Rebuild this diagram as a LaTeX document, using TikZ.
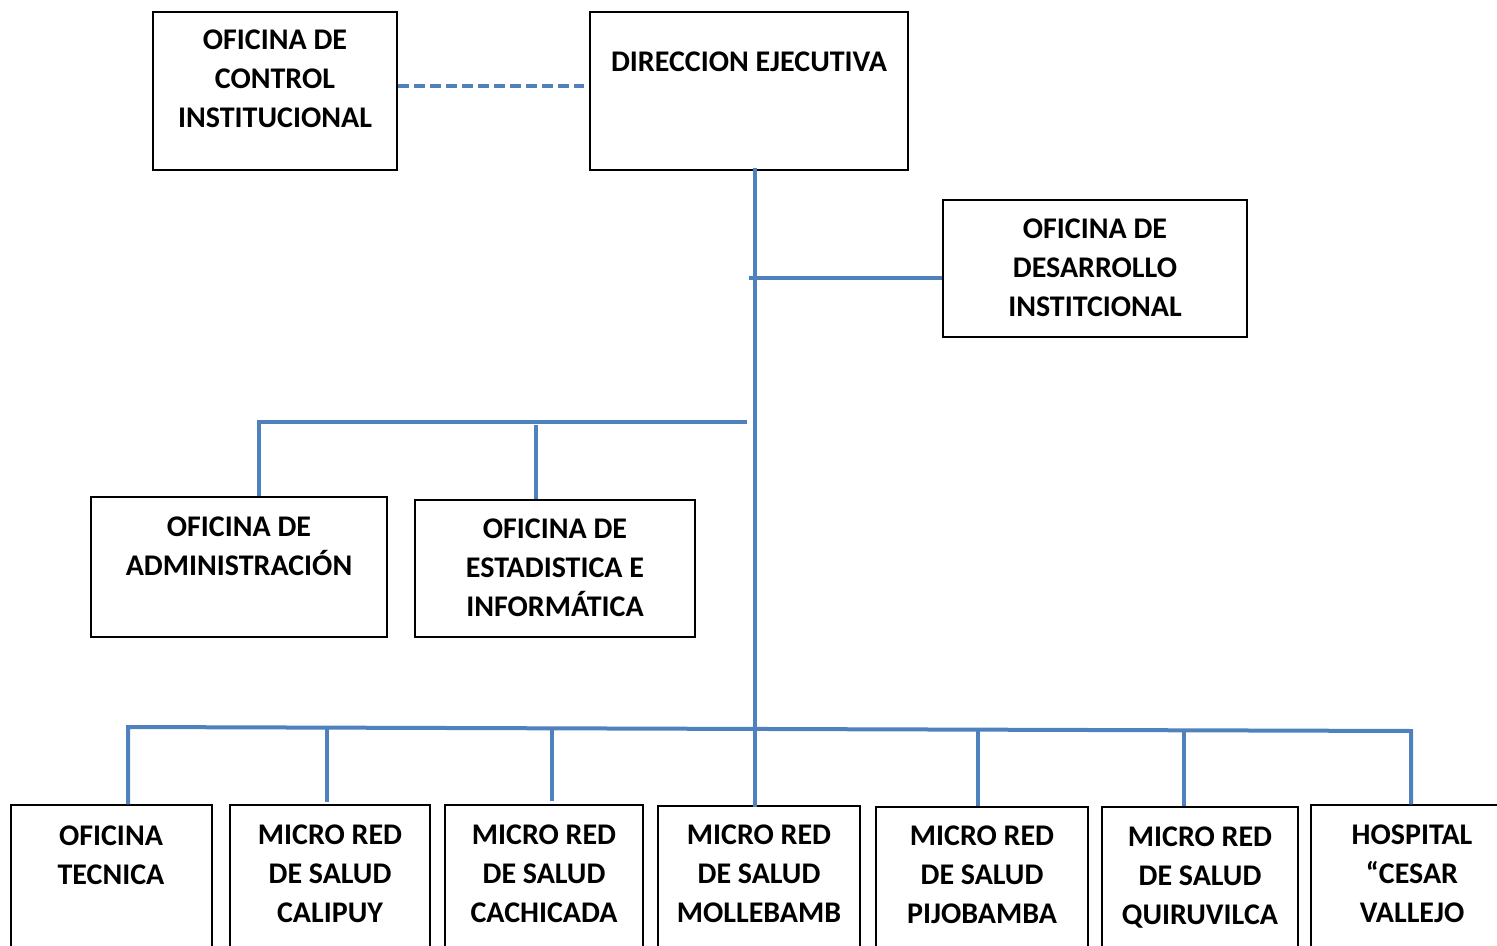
\documentclass[tikz,border=0pt]{standalone}
\usepackage{fontspec}
\setmainfont{Carlito}
\usetikzlibrary{calc}
\definecolor{lineblue}{HTML}{4F81BD}
\tikzset{
  box/.style={draw=black, line width=0.75pt, rectangle, inner sep=0pt},
  lbl/.style={font=\bfseries\fontsize{15}{19.5}\selectfont, align=center, inner sep=0pt, anchor=base},
  conn/.style={draw=lineblue, line width=2pt},
  dashconn/.style={conn, dash pattern=on 5.5pt off 2.5pt}
}
\newcommand\mybox[5]{\node[box, minimum width={(#4-#2)*0.5pt}, minimum height={(#5-#3)*0.5pt}] (#1) at ({(#2+#4)/2},{(#3+#5)/2}) {};}
\begin{document}
\begin{tikzpicture}[x=0.5pt,y=-0.5pt]
\useasboundingbox (0,0) rectangle (1497,946);
\clip (0,0) rectangle (1497,946);
% boxes
\mybox{ctrl}{153}{12}{397}{170}
\mybox{dir}{590}{12}{908}{170}
\mybox{des}{943}{200}{1247}{337}
\mybox{adm}{91}{497}{387}{637}
\mybox{est}{415}{500}{695}{637}
\mybox{tec}{11}{805}{212}{960}
\mybox{cal}{230}{805}{430}{960}
\mybox{cach}{445}{805}{643}{960}
\mybox{moll}{658}{806}{860}{960}
\mybox{pij}{876}{807}{1088}{960}
\mybox{quir}{1102}{807}{1298}{960}
\mybox{hosp}{1311}{805}{1510}{960}
% labels (anchored at the baseline of the last line)
\node[lbl] (ctrlt) at (275,128) {OFICINA DE\\CONTROL\\INSTITUCIONAL};
\node[lbl] (dirt) at (749,72) {DIRECCION EJECUTIVA};
\node[lbl] (dest) at (1095,316) {OFICINA DE\\DESARROLLO\\INSTITCIONAL};
\node[lbl] (admt) at (239,575) {OFICINA DE\\ADMINISTRACIÓN};
\node[lbl] (estt) at (555,616) {OFICINA DE\\ESTADISTICA E\\INFORMÁTICA};
\node[lbl] (tect) at (111,884) {OFICINA\\TECNICA};
\node[lbl] (calt) at (330,922) {MICRO RED\\DE SALUD\\CALIPUY};
\node[lbl] (cacht) at (544,922) {MICRO RED\\DE SALUD\\CACHICADA};
\node[lbl] (mollt) at (759,922) {MICRO RED\\DE SALUD\\MOLLEBAMB};
\node[lbl] (pijt) at (982,923) {MICRO RED\\DE SALUD\\PIJOBAMBA};
\node[lbl] (quirt) at (1200,924) {MICRO RED\\DE SALUD\\QUIRUVILCA};
\node[lbl] (hospt) at (1412,922) {HOSPITAL\\“CESAR\\VALLEJO};
% junction coordinates
\coordinate (t0) at (755,168);
\coordinate (t1) at (755,807);
\coordinate (d0) at (749,278);
\coordinate (m0) at (747,422);
\coordinate (m1) at (259,422);
\coordinate (m2) at (536,425);
\coordinate (bL) at (128,727);
\coordinate (bR) at (1411,731);
\coordinate (b2) at (327,728);
\coordinate (b3) at (552,728);
\coordinate (b5) at (978,730);
\coordinate (b6) at (1184,730);
% connectors
\draw[dashconn] ($(ctrl.east)+(0,-5)$) -- ($(dir.west)+(-5,-5)$);
\draw[conn] (t0) -- (t1);
\draw[conn] (d0) -- (d0 -| des.west);
\draw[conn] (m0) -- (m1) -- (m1 |- adm.north);
\draw[conn] (m2) -- (m2 |- est.north);
\draw[conn] (bL |- tec.north) -- (bL) -- (bR) -- (bR |- hosp.north);
\draw[conn] (b2) -- ($(b2 |- cal.north)+(0,-2)$);
\draw[conn] (b3) -- ($(b3 |- cach.north)+(0,-3)$);
\draw[conn] (b5) -- (b5 |- pij.north);
\draw[conn] (b6) -- (b6 |- quir.north);
\end{tikzpicture}
\end{document}
